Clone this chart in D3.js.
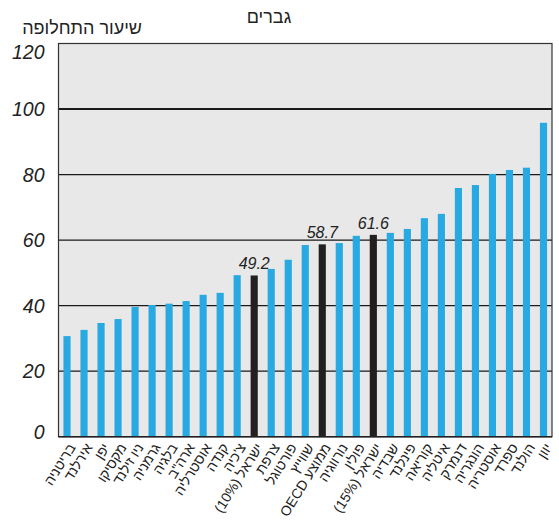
<!DOCTYPE html>
<html><head><meta charset="utf-8">
<script src="https://cdn.jsdelivr.net/npm/d3@7"></script>
<style>body{margin:0;background:#fff}svg{display:block}</style>
</head><body>
<script>
const categories = ["בריטניה","אירלנד","יפן","מקסיקו","ניו זילנד","גרמניה","בלגיה","ארה\"ב","אוסטרליה","קנדה","צ'כיה","ישראל (10%)","צרפת","פורטוגל","שווייץ","ממוצע OECD","נורווגיה","פולין","ישראל (15%)","שבדיה","פינלנד","קוריאה","איטליה","דנמרק","הונגריה","אוסטריה","ספרד","הולנד","יוון"];
const values = [30.7,32.6,34.7,35.9,39.6,40.2,40.6,41.4,43.3,43.9,49.3,49.2,51.2,54.0,58.5,58.7,59.1,61.3,61.6,62.2,63.4,66.7,68.0,75.9,76.8,80.2,81.4,82.1,95.8];
const highlighted = ["ישראל (10%)","ממוצע OECD","ישראל (15%)"];
const annotations = {"ישראל (10%)":"49.2","ממוצע OECD":"58.7","ישראל (15%)":"61.6"};
const yTicks = [0,20,40,60,80,100,120];
const title = "גברים";
const yTitle = "שיעור התחלופה";

const W=559,H=520, L=58.5, R=552, T=43.5, B=436.7;
const svg=d3.select("body").append("svg").attr("width",W).attr("height",H);
const x=d3.scaleBand().domain(categories).range([L,R]).paddingInner(0.58).paddingOuter(0.29);
const y=d3.scaleLinear().domain([0,120]).range([B,T]);

svg.append("rect").attr("x",L).attr("y",T).attr("width",R-L).attr("height",B-T).attr("fill","#e8e8e8");
// gridlines
svg.append("g").selectAll("line").data(yTicks.filter(d=>d>0&&d<120)).join("line")
  .attr("x1",L).attr("x2",R).attr("y1",d=>y(d)).attr("y2",d=>y(d))
  .attr("stroke","#1a1a1a").attr("stroke-width",d=>d===100?2:1.2);
// bars
svg.append("g").selectAll("rect").data(categories).join("rect")
  .attr("x",d=>x(d)).attr("width",x.bandwidth())
  .attr("y",(d,i)=>y(values[i])).attr("height",(d,i)=>B-y(values[i]))
  .attr("fill",d=>highlighted.includes(d)?"#231f20":"#29a9e1");
// frame
svg.append("rect").attr("x",L).attr("y",T).attr("width",R-L).attr("height",B-T).attr("fill","none").attr("stroke","#333").attr("stroke-width",1.2);
svg.append("line").attr("x1",L).attr("x2",R).attr("y1",B).attr("y2",B).attr("stroke","#222").attr("stroke-width",1.5);
// y axis
const yAxis=d3.axisLeft(y).tickValues(yTicks).tickSize(0).tickPadding(14);
const ga=svg.append("g").attr("transform",`translate(${L},0)`).call(yAxis);
ga.select(".domain").remove();
ga.selectAll("text").attr("font-family","'Liberation Sans',Arial,sans-serif").attr("font-style","italic").attr("font-size",19.5).attr("fill","#222")
  .attr("dy",d=>d===120?"0.75em":d===0?"0.1em":"0.35em");
// annotations
svg.append("g").selectAll("text").data(categories.filter(c=>annotations[c])).join("text")
  .attr("x",d=>x(d)+x.bandwidth()/2).attr("y",d=>y(values[categories.indexOf(d)])-6)
  .attr("text-anchor","middle").attr("font-family","'Liberation Sans',Arial,sans-serif").attr("font-style","italic").attr("font-size",16).attr("fill","#222")
  .text(d=>annotations[d]);
// x labels
svg.append("g").selectAll("text").data(categories).join("text")
  .attr("transform",d=>`translate(${x(d)+x.bandwidth()/2+5},${B+8}) rotate(-58)`)
  .attr("direction","rtl").attr("text-anchor","start").attr("dy","0.35em")
  .attr("font-family","'Liberation Sans',Arial,sans-serif").attr("font-size",14).attr("fill","#222")
  .text(d=>d);
// titles
svg.append("text").attr("x",269).attr("y",23).attr("text-anchor","middle").attr("font-family","'Liberation Sans',Arial,sans-serif").attr("font-size",18).attr("fill","#222").text(title);
svg.append("text").attr("x",142).attr("y",34).attr("direction","rtl").attr("text-anchor","start").attr("font-family","'Liberation Sans',Arial,sans-serif").attr("font-size",18).attr("fill","#222").text(yTitle);
</script>
</body></html>
